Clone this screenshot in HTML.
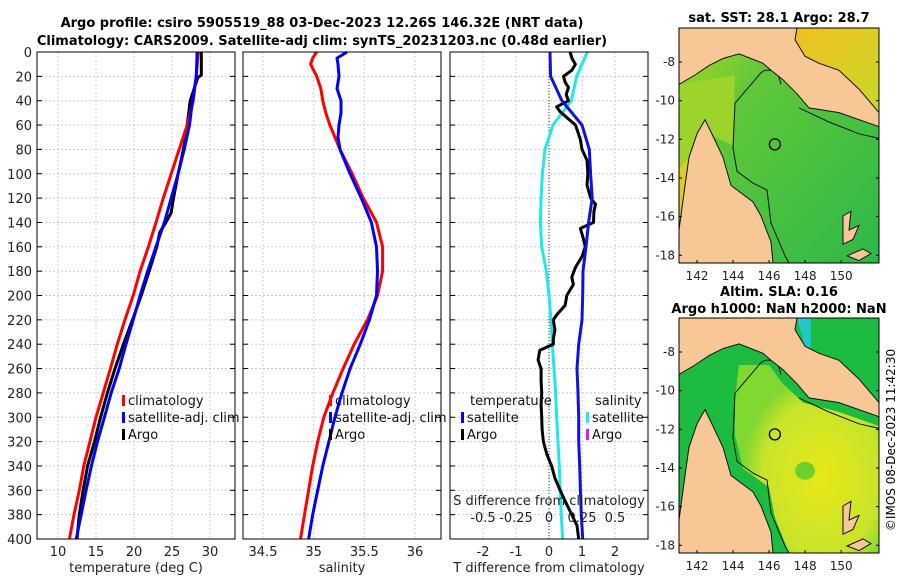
<!DOCTYPE html>
<html><head><meta charset="utf-8"><style>
html,body{margin:0;padding:0;background:#fff;width:900px;height:580px;overflow:hidden}
svg{font-family:"DejaVu Sans","Liberation Sans",sans-serif}
</style></head><body>
<svg id="fig" width="900" height="580" viewBox="0 0 900 580" xmlns="http://www.w3.org/2000/svg">
<text x="322" y="27" font-size="13" font-weight="bold" text-anchor="middle">Argo profile: csiro 5905519_88 03-Dec-2023 12.26S 146.32E (NRT data)</text>
<text x="322" y="45" font-size="13" font-weight="bold" text-anchor="middle">Climatology: CARS2009. Satellite-adj clim: synTS_20231203.nc (0.48d earlier)</text>
<text x="779" y="22" font-size="13" font-weight="bold" text-anchor="middle">sat. SST: 28.1 Argo: 28.7</text>
<text x="779" y="296" font-size="13" font-weight="bold" text-anchor="middle">Altim. SLA: 0.16</text>
<text x="779" y="313" font-size="13" font-weight="bold" text-anchor="middle">Argo h1000: NaN h2000: NaN</text>
<text transform="translate(895,440) rotate(-90)" font-size="12" text-anchor="middle">©IMOS 08-Dec-2023 11:42:30</text>
<g id="plots"></g>
</svg>
<script>
// ---- data ----
const depthStd = [0,20,40,60,80,100,120,140,160,180,200,220,240,260,280,300,320,340,360,380,400];
const tempClim = [28.45,28.2,27.8,27.0,25.95,24.9,23.85,22.9,21.9,20.8,19.9,18.8,17.8,16.9,15.95,15.0,14.2,13.4,12.8,12.1,11.5];
const tempSat = [28.3,28.2,27.7,27.3,26.6,25.8,24.9,24.0,22.9,21.8,20.8,19.9,18.95,18.05,17.0,16.1,15.2,14.4,13.7,13.05,12.4];
const tempArgoDepth = [0,19,21,40,60,80,100,120,132,140,148,160,180,200,220,240,260,280,300,320,340,360,380,400];
const tempArgo = [28.85,28.85,28.4,27.4,27.0,26.5,25.8,25.2,24.9,24.2,23.4,23.0,22.0,20.95,19.8,18.6,17.5,16.5,15.6,14.8,13.9,13.3,12.8,12.5];
const salDepth = [0,5,10,20,30,40,50,60,70,80,100,120,140,160,180,200,220,240,260,280,300,320,340,360,380,400];
const salClim = [35.03,34.99,34.97,35.03,35.07,35.09,35.12,35.16,35.21,35.26,35.38,35.49,35.62,35.68,35.68,35.63,35.53,35.40,35.29,35.19,35.10,35.04,34.99,34.95,34.91,34.87];
const salSat = [35.33,35.23,35.24,35.25,35.23,35.27,35.27,35.25,35.24,35.26,35.36,35.47,35.57,35.62,35.63,35.62,35.55,35.46,35.36,35.28,35.21,35.15,35.09,35.04,34.99,34.95];
const dTSat = [0.03,0.05,0.39,1.0,1.22,1.26,1.31,1.2,1.12,1.03,1.02,1.0,0.9,0.85,0.88,0.9,0.9,0.93,0.95,0.98,1.02];
const dSSat = [0.29,0.21,0.17,0.03,-0.03,-0.05,-0.06,-0.065,-0.055,-0.02,0.0,0.015,0.025,0.038,0.05,0.058,0.068,0.078,0.085,0.093,0.103];
const dTArgoDepth = [0,5,10,15,20,25,29,35,40,45,49,55,60,66,72,80,89,100,109,120,125,131,140,145,154,160,168,177,185,191,200,208,216,220,228,236,240,245,253,260,270,280,290,300,310,320,330,340,350,360,369,380,389,400];
const dTArgo = [0.64,0.69,0.8,0.69,0.44,0.49,0.59,0.52,0.59,0.23,0.34,0.59,0.8,0.88,0.95,1.0,1.15,1.18,1.15,1.26,1.41,1.36,1.35,0.95,1.05,1.1,1.0,0.8,0.69,0.74,0.54,0.49,0.23,0.13,0.18,0.13,0.13,-0.28,-0.33,-0.24,-0.24,-0.22,-0.24,-0.22,-0.21,-0.17,-0.07,0.08,0.18,0.34,0.49,0.69,0.85,0.9];
const depthTicks = [0,20,40,60,80,100,120,140,160,180,200,220,240,260,280,300,320,340,360,380,400];
const tempTicks = [10,15,20,25,30];
const salTicks = [34.5,35,35.5,36];
const dTTicks = [-2,-1,0,1,2];
const dSTicks = [-0.5,-0.25,0,0.25,0.5];
const lonTicks = [142,144,146,148,150];
const latTicks = [-8,-10,-12,-14,-16,-18];
const argoLon = 146.32, argoLat = -12.26;

const NS='http://www.w3.org/2000/svg';
const root=document.getElementById('plots');
function mk(tag,attrs,parent){const e=document.createElementNS(NS,tag);for(const k in attrs)e.setAttribute(k,attrs[k]);(parent||root).appendChild(e);return e;}

const TOP=52,BOT=539;
const yD=d=>TOP+(BOT-TOP)*d/400;
function lin(d0,d1,r0,r1){return v=>r0+(v-d0)*(r1-r0)/(d1-d0);}

const panels=[
 {name:'temperature-panel',x0:37,x1:235,sc:lin(10,30,58,210),ticks:tempTicks,label:'temperature (deg C)',ylabels:true},
 {name:'salinity-panel',x0:243,x1:441,sc:lin(34.5,36,263,415),ticks:salTicks,label:'salinity',ylabels:false},
 {name:'difference-panel',x0:450,x1:648,sc:lin(-3,3,450,648),ticks:dTTicks,label:'T difference from climatology',ylabels:false}
];
panels.forEach(p=>{
  const g=mk('g',{});
  
  
  mk('rect',{x:p.x0,y:TOP,width:p.x1-p.x0,height:BOT-TOP,fill:'#fff'},g);
  depthTicks.forEach(d=>{
    const l=mk('line',{x1:p.x0,x2:p.x1,y1:yD(d),y2:yD(d),stroke:'#c4c8e8','stroke-width':1,'stroke-dasharray':'2,2'},g);
    
    
    mk('line',{x1:p.x0,x2:p.x0+5,y1:yD(d),y2:yD(d),stroke:'#000'},g);
    mk('line',{x1:p.x1,x2:p.x1-5,y1:yD(d),y2:yD(d),stroke:'#000'},g);
    if(p.ylabels){const t=mk('text',{x:p.x0-5,y:yD(d)+5,'font-size':13,'text-anchor':'end',fill:'#222'},g);t.textContent=d;
      
      }
  });
  p.ticks.forEach(v=>{
    const x=p.sc(v);
    const l=mk('line',{x1:x,x2:x,y1:TOP,y2:BOT,stroke:'#d8c4d8','stroke-width':1,'stroke-dasharray':'2,2'},g);
    
    
    const t=mk('text',{x:x,y:556,'font-size':13,'text-anchor':'middle',fill:'#222'},g);t.textContent=v;
    
    
  });
  const lab=mk('text',{x:(p.x0+p.x1)/2,y:572,'font-size':13,'text-anchor':'middle',fill:'#222'},g);lab.textContent=p.label;
  
  
  p.g=g;
});
const tS=panels[0].sc, sS=panels[1].sc, dS=panels[2].sc;
const dSS=v=>dS(v*4);
const zl=mk('line',{x1:dS(0),x2:dS(0),y1:TOP,y2:BOT,stroke:'#333','stroke-dasharray':'1,2'},panels[2].g);



function line(g,xs,ds,fx,color,name){
  const pts=xs.map((v,i)=>fx(v).toFixed(1)+','+yD(ds[i]).toFixed(1)).join(' ');
  const e=mk('polyline',{points:pts,fill:'none',stroke:color,'stroke-width':3,'stroke-linejoin':'round'},g);
  
  
}
line(panels[0].g,tempArgo,tempArgoDepth,tS,'#000','argo-temperature-line');
line(panels[0].g,tempClim,depthStd,tS,'#f00','climatology-temperature-line');
line(panels[0].g,tempSat,depthStd,tS,'#00f','satellite-temperature-line');
line(panels[1].g,salClim,salDepth,sS,'#f00','climatology-salinity-line');
line(panels[1].g,salSat,salDepth,sS,'#00f','satellite-salinity-line');
line(panels[2].g,dSSat,depthStd,dSS,'#20e8e8','satellite-salinity-diff-line');
line(panels[2].g,dTArgo,dTArgoDepth,dS,'#000','argo-temperature-diff-line');
line(panels[2].g,dTSat,depthStd,dS,'#1010e0','satellite-temperature-diff-line');

panels.forEach(p=>{const b=mk('rect',{x:p.x0,y:TOP,width:p.x1-p.x0,height:BOT-TOP,fill:'none',stroke:'#000','stroke-width':1},p.g);
  
  });

const st=mk('text',{x:549,y:505,'font-size':13,'text-anchor':'middle',fill:'#222'},panels[2].g);st.textContent='S difference from climatology';


dSTicks.forEach(v=>{const t=mk('text',{x:dSS(v),y:522,'font-size':13,'text-anchor':'middle',fill:'#222'},panels[2].g);t.textContent=v;
  
  });

function legend(g,x,y,color,text,name){
  const lg=mk('g',{},g);
  
  
  if(color) mk('rect',{x:x,y:y-10,width:3,height:11,fill:color},lg);
  const t=mk('text',{x:x+6,y:y,'font-size':13,fill:'#111'},lg);t.textContent=text;
}
legend(panels[0].g,122,405,'#f00','climatology','legend-climatology');
legend(panels[0].g,122,422,'#00f','satellite-adj. clim','legend-satellite-adj');
legend(panels[0].g,122,439,'#000','Argo','legend-argo');
legend(panels[1].g,329,405,'#f00','climatology','legend-climatology-sal');
legend(panels[1].g,329,422,'#00f','satellite-adj. clim','legend-satellite-adj-sal');
legend(panels[1].g,329,439,'#000','Argo','legend-argo-sal');
legend(panels[2].g,464,405,null,'temperature','legend-temperature-header');
legend(panels[2].g,461,422,'#00f','satellite','legend-temp-satellite');
legend(panels[2].g,461,439,'#000','Argo','legend-temp-argo');
legend(panels[2].g,589,405,null,'salinity','legend-salinity-header');
legend(panels[2].g,586,422,'#20e8e8','satellite','legend-sal-satellite');
legend(panels[2].g,586,439,'#e020e0','Argo','legend-sal-argo');

// maps
const MX0=679,MX1=879,LON0=141.0,LON1=152.1,LAT0=-6.24,LAT1=-18.4;
function map(y0,y1,name,seaFill,extra){
  const g=mk('g',{});
  
  
  const W=MX1-MX0,H=y1-y0;
  const P=(fx,fy)=>(MX0+fx*W).toFixed(1)+','+(y0+fy*H).toFixed(1);
  const pl=a=>a.map(b=>P(b[0],b[1])).join(' ');
  mk('rect',{x:MX0,y:y0,width:W,height:H,fill:seaFill},g);
  extra(g,P,pl);
  // shelf contour
  mk('polyline',{points:pl([[0.51,0.24],[0.49,0.18],[0.43,0.18],[0.41,0.19],[0.28,0.32],[0.27,0.51],[0.29,0.61],[0.37,0.66],[0.44,0.69],[0.46,0.83],[0.53,0.97],[0.55,1]]),fill:'none',stroke:'#111','stroke-width':1},g);
  mk('polyline',{points:pl([[0.6,0.34],[0.75,0.4],[0.9,0.45],[1,0.47]]),fill:'none',stroke:'#111','stroke-width':1},g);
  // land
  const png=[[0,0],[0.59,0],[0.58,0.05],[0.63,0.12],[0.7,0.15],[0.8,0.18],[0.9,0.26],[1,0.36],[1,0.42],[0.8,0.36],[0.65,0.34],[0.59,0.28],[0.52,0.22],[0.46,0.18],[0.42,0.15],[0.36,0.13],[0.3,0.11],[0.22,0.13],[0.15,0.16],[0.08,0.2],[0,0.24]];
  const land1=mk('polygon',{points:pl(png),fill:'#f7c795',stroke:'#111','stroke-width':1},g);
  
  
  const cy=[[0.13,0.39],[0.17,0.46],[0.22,0.55],[0.26,0.67],[0.37,0.74],[0.41,0.8],[0.46,0.91],[0.47,1],[0,1],[0,0.86],[0.03,0.67],[0.05,0.55],[0.09,0.45]];
  const land2=mk('polygon',{points:pl(cy),fill:'#f7c795',stroke:'#111','stroke-width':1},g);
  
  
  mk('polygon',{points:pl([[0.82,0.8],[0.86,0.78],[0.85,0.86],[0.9,0.84],[0.87,0.9],[0.82,0.92]]),fill:'#f7c795',stroke:'#111','stroke-width':1},g);
  mk('polygon',{points:pl([[0.84,0.97],[0.92,0.94],[0.96,0.96],[0.9,0.99]]),fill:'#f7c795',stroke:'#111','stroke-width':1},g);
  const mx=lin(LON0,LON1,MX0,MX1), my=lin(LAT0,LAT1,y0,y1);
  const c=mk('circle',{cx:mx(argoLon),cy:my(argoLat),r:5.5,fill:'none',stroke:'#000','stroke-width':1.3},g);
  
  
  mk('rect',{x:MX0,y:y0,width:W,height:H,fill:'none',stroke:'#000'},g);
  lonTicks.forEach(v=>{const x=mx(v);mk('line',{x1:x,x2:x,y1:y1,y2:y1-3,stroke:'#000'},g);
    const t=mk('text',{x:x,y:y1+17,'font-size':12,'text-anchor':'middle',fill:'#222'},g);t.textContent=v;
    
    });
  latTicks.forEach(v=>{const y=my(v);mk('line',{x1:MX0,x2:MX0+3,y1:y,y2:y,stroke:'#000'},g);mk('line',{x1:MX1,x2:MX1-3,y1:y,y2:y,stroke:'#000'},g);
    const t=mk('text',{x:MX0-4,y:y+4,'font-size':12,'text-anchor':'end',fill:'#222'},g);t.textContent=v;
    
    });
}
const defs=mk('defs',{});
const lg1=mk('linearGradient',{id:'sstg',x1:0,y1:0,x2:1,y2:1},defs);
mk('stop',{offset:'0','stop-color':'#b8d820'},lg1);mk('stop',{offset:'0.3','stop-color':'#60c838'},lg1);mk('stop',{offset:'1','stop-color':'#2cb848'},lg1);
const lg2=mk('linearGradient',{id:'sstne',x1:0,y1:0,x2:1,y2:1},defs);
mk('stop',{offset:'0','stop-color':'#f0c020'},lg2);mk('stop',{offset:'1','stop-color':'#c8d828'},lg2);
const rg=mk('radialGradient',{id:'slag',cx:0.6,cy:0.6,r:0.55},defs);
mk('stop',{offset:'0','stop-color':'#e8e818'},rg);mk('stop',{offset:'0.75','stop-color':'#c8e42a'},rg);mk('stop',{offset:'1','stop-color':'#80d830'},rg);
map(28,263,'sst-map','url(#sstg)',(g,P,pl)=>{
  mk('polygon',{points:pl([[0.59,0],[1,0],[1,0.36],[0.9,0.26],[0.8,0.18],[0.7,0.15],[0.63,0.12],[0.58,0.05]]),fill:'url(#sstne)'},g);
  mk('polygon',{points:pl([[0,0.24],[0.28,0.2],[0.27,0.5],[0.12,0.44],[0,0.7]]),fill:'#9cd42c'},g);
  mk('polygon',{points:pl([[0,0.6],[0.05,0.55],[0.03,0.8],[0,0.88]]),fill:'#d8d020'},g);
});
map(318,553,'sla-map','#1cbc40',(g,P,pl)=>{
  mk('polygon',{points:pl([[0.3,0.2],[0.45,0.2],[0.52,0.28],[0.62,0.36],[0.8,0.4],[1,0.46],[1,1],[0.55,1],[0.48,0.85],[0.45,0.72],[0.32,0.64],[0.28,0.5],[0.28,0.34]]),fill:'url(#slag)'},g);
  mk('ellipse',{cx:P(0.63,0.65).split(',')[0],cy:P(0.63,0.65).split(',')[1],rx:10,ry:9,fill:'#50cc30',opacity:0.8},g);
  mk('polygon',{points:pl([[0.59,0],[0.66,0],[0.66,0.16],[0.63,0.12]]),fill:'#20c8c8'},g);
});
</script>
</body></html>
